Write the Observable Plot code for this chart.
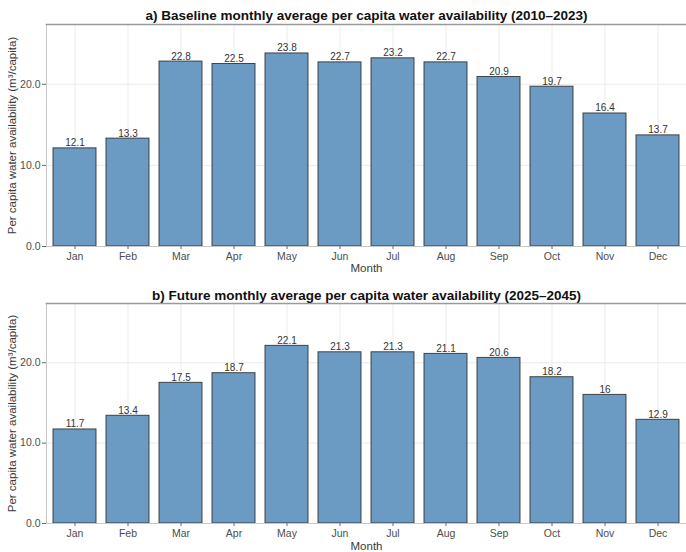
<!DOCTYPE html>
<html>
<head>
<meta charset="utf-8">
<script src="https://cdn.jsdelivr.net/npm/d3@7"></script>
<script src="https://cdn.jsdelivr.net/npm/@observablehq/plot@0.6"></script>
<style>
  html, body { margin: 0; padding: 0; background: white; }
  svg { display: block; }
</style>
</head>
<body>
<div id="chart"></div>
<script>
const months = ["Jan","Feb","Mar","Apr","May","Jun","Jul","Aug","Sep","Oct","Nov","Dec"];
const baseline = [12.1, 13.3, 22.8, 22.5, 23.8, 22.7, 23.2, 22.7, 20.9, 19.7, 16.4, 13.7];
const future = [11.7, 13.4, 17.5, 18.7, 22.1, 21.3, 21.3, 21.1, 20.6, 18.2, 16, 12.9];
const yTicks = [0, 10, 20];
const yMax = 27.37;
const titleA = "a) Baseline monthly average per capita water availability (2010\u20132023)";
const titleB = "b) Future monthly average per capita water availability (2025\u20132045)";
const yLabel = "Per capita water availability (m\u00b3/capita)";
const xLabel = "Month";

function panel(values, title, height, marginTop, marginBottom, monthDy, titleDy) {
  const data = months.map((m, i) => ({month: m, value: values[i]}));
  return Plot.plot({
    width: 686,
    height,
    marginLeft: 46,
    marginRight: 0,
    marginTop,
    marginBottom,
    style: {fontFamily: "'Liberation Sans', Arial, sans-serif", fontSize: "10.5px", color: "#4d4d4d", background: "white"},
    x: {domain: months, paddingInner: 0.19, paddingOuter: 0.075},
    y: {domain: [0, yMax]},
    marks: [
      Plot.gridX(months, {stroke: "#ebebeb", strokeOpacity: 1}),
      Plot.gridY(yTicks, {stroke: "#ebebeb", strokeOpacity: 1}),
      Plot.barY(data, {x: "month", y: "value", fill: "#6b9bc3", stroke: "#2b2b2b", strokeWidth: 1, strokeOpacity: 0.85}),
      Plot.text(data, {x: "month", y: "value", text: d => String(d.value), lineAnchor: "bottom", dy: -2, fontSize: 10, fill: "#333"}),
      Plot.frame({anchor: "left", stroke: "#c8c8c8"}),
      Plot.frame({anchor: "bottom", stroke: "#c8c8c8"}),
      Plot.frame({anchor: "top", stroke: "#9a9a9a", strokeWidth: 1.6}),
      Plot.axisX({tickSize: 3, tickPadding: 3, stroke: "#666", fontSize: 10.5, label: null}),
      Plot.axisY({ticks: yTicks, tickFormat: d => d.toFixed(1), tickSize: 4, tickPadding: 2, stroke: "#666", fontSize: 10.5, label: null}),
      Plot.text([xLabel], {frameAnchor: "bottom", dy: monthDy, fontSize: 11.5, fill: "#3a3a3a"}),
      Plot.text([yLabel], {frameAnchor: "left", dx: -34, rotate: -90, textAnchor: "middle", fontSize: 11.5, fill: "#3a3a3a"}),
      Plot.text([title], {frameAnchor: "top", dy: titleDy, fontSize: 13.5, fontWeight: "bold", fill: "#111"})
    ]
  });
}

const root = document.getElementById("chart");
root.append(panel(baseline, titleA, 280, 24, 34, 25, -14));
root.append(panel(future, titleB, 272, 23, 29, 26, -13));
</script>
</body>
</html>
